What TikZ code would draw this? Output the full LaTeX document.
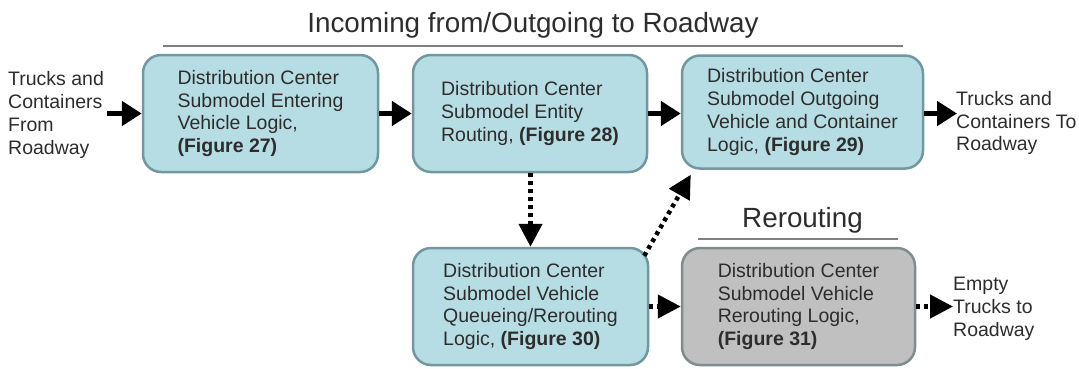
\documentclass[tikz,border=0pt]{standalone}
\usepackage{fontspec}
\setmainfont{Liberation Sans}
\usetikzlibrary{arrows.meta}

\definecolor{boxfill}{RGB}{183,221,228}
\definecolor{boxedge}{RGB}{112,152,158}
\definecolor{grayfill}{RGB}{192,192,192}
\definecolor{grayedge}{RGB}{128,140,141}
\definecolor{rulegray}{RGB}{128,128,128}
\definecolor{ink}{RGB}{45,45,45}

\tikzset{
  procbox/.style={rectangle, rounded corners=18pt, draw=boxedge, fill=boxfill,
    line width=2.5pt, align=left, text=ink, inner sep=0pt,
    font=\fontsize{19.5}{22.7}\selectfont},
  graybox/.style={procbox, draw=grayedge, fill=grayfill},
  sidelabel/.style={align=left, anchor=west, text=ink, inner sep=0pt,
    font=\fontsize{19.5}{22.7}\selectfont},
  headline/.style={text=ink, anchor=base, inner sep=0pt,
    font=\fontsize{27.8}{30}\selectfont},
  headrule/.style={draw=rulegray, line width=2.5pt},
  flow/.style={line width=5pt, -{Triangle[length=20pt,width=24pt]}},
  dotflow/.style={line width=4.5pt, dash pattern=on 4pt off 4pt,
    -{Triangle[length=23pt,width=23pt]}}
}

\begin{document}
\begin{tikzpicture}[x=1pt,y=-1pt]
\useasboundingbox (0,0) rectangle (1079,368);

% section headings
\node[headline] (mainhead) at (533,32) {Incoming from/Outgoing to Roadway};
\coordinate (mainruleL) at (163,46);
\coordinate (mainruleR) at (903,46);
\draw[headrule] (mainruleL) -- (mainruleR);

\node[headline] (rerouthead) at (802.5,227) {Rerouting};
\coordinate (reruleL) at (698,239);
\coordinate (reruleR) at (898,239);
\draw[headrule] (reruleL) -- (reruleR);

% submodel boxes
\node[procbox, minimum width=235pt, minimum height=117pt] (enter) at (260.5,113.5)
  {Distribution Center\\Submodel Entering\\Vehicle Logic,\\\textbf{(Figure 27)}};
\node[procbox, minimum width=234pt, minimum height=117pt] (route) at (530,113.5)
  {Distribution Center\\Submodel Entity\\Routing, \textbf{(Figure 28)}};
\node[procbox, minimum width=241pt, minimum height=113pt] (outgo) at (802.5,112)
  {Distribution Center\\Submodel Outgoing\\Vehicle and Container\\Logic, \textbf{(Figure 29)}};
\node[procbox, minimum width=235pt, minimum height=117pt] (queue) at (530.5,306.5)
  {Distribution Center\\Submodel Vehicle\\Queueing/Rerouting\\Logic, \textbf{(Figure 30)}};
\node[graybox, minimum width=233pt, minimum height=117pt] (reroute) at (798.5,306.5)
  {Distribution Center\\Submodel Vehicle\\Rerouting Logic,\\\textbf{(Figure 31)}};

% outside labels
\node[sidelabel] (inlabel) at (8,115) {Trucks and\\Containers\\From\\Roadway};
\node[sidelabel] (outlabel) at (956,123) {Trucks and\\Containers To\\Roadway};
\node[sidelabel] (emptylabel) at (953,309) {Empty\\Trucks to\\Roadway};

% flow connectors
\coordinate (inStart) at (107,113.5);
\coordinate (outEnd) at (957,113.5);
\coordinate (emptyEnd) at (953,306.5);

\draw[flow] (inStart) -- (enter.west);
\draw[flow] (enter.east) -- (route.west);
\draw[flow] (route.east) -- (outgo.west |- route.east);
\draw[flow] (outgo.east |- outEnd) -- (outEnd);

\draw[dotflow] (route.south -| queue.north) -- (queue.north);
\draw[dotflow] ([shift={(-5,9)}]queue.north east) -- ([shift={(10,5)}]outgo.south west);
\draw[dotflow] (queue.east) -- (reroute.west);
\draw[dotflow] (reroute.east) -- (emptyEnd);
\end{tikzpicture}
\end{document}
